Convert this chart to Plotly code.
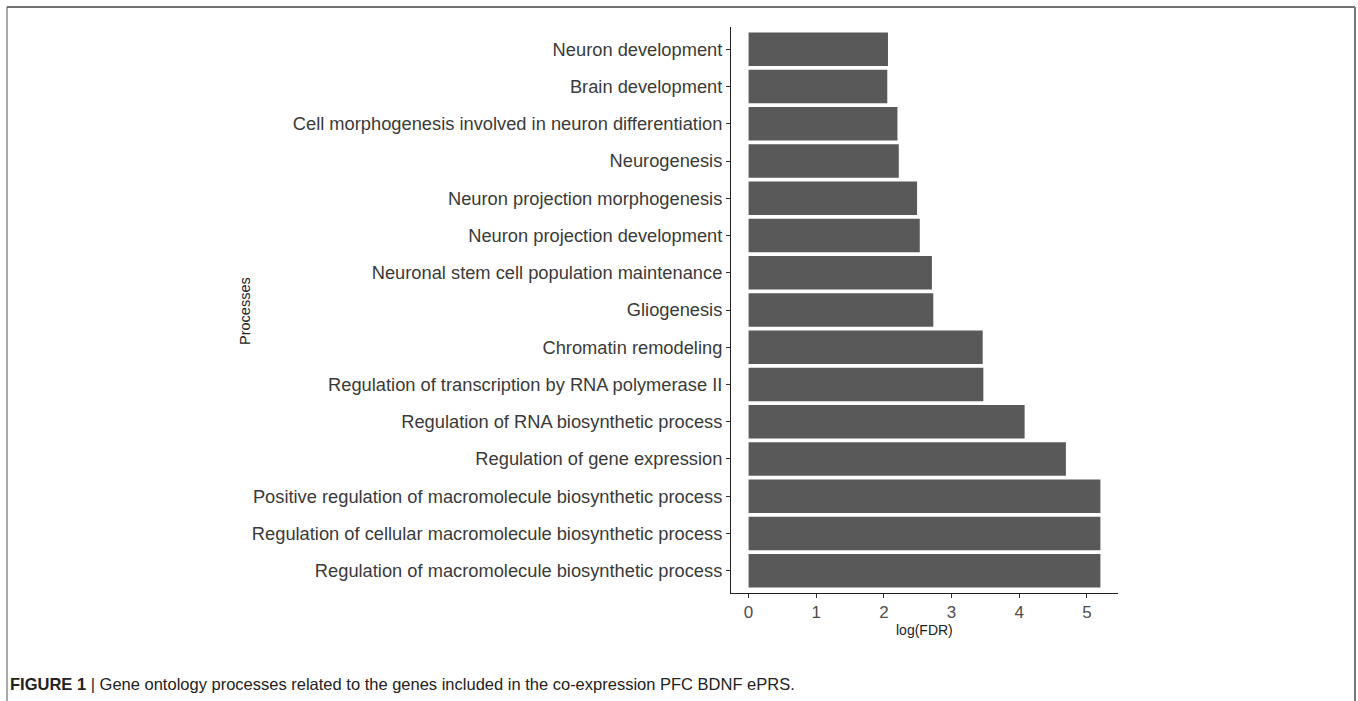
import plotly.graph_objects as go

# Data (top to bottom as shown)
processes = [
    "Neuron development",
    "Brain development",
    "Cell morphogenesis involved in neuron differentiation",
    "Neurogenesis",
    "Neuron projection morphogenesis",
    "Neuron projection development",
    "Neuronal stem cell population maintenance",
    "Gliogenesis",
    "Chromatin remodeling",
    "Regulation of transcription by RNA polymerase II",
    "Regulation of RNA biosynthetic process",
    "Regulation of gene expression",
    "Positive regulation of macromolecule biosynthetic process",
    "Regulation of cellular macromolecule biosynthetic process",
    "Regulation of macromolecule biosynthetic process",
]
log_fdr = [2.06, 2.05, 2.20, 2.22, 2.49, 2.53, 2.71, 2.73, 3.46, 3.47, 4.08, 4.69, 5.20, 5.20, 5.20]
x_ticks = [0, 1, 2, 3, 4, 5]

caption_bold = "FIGURE 1"
caption_text = " | Gene ontology processes related to the genes included in the co-expression PFC BDNF ePRS."

W, H = 1358, 701
L, R, T, B = 731, 1118, 27, 593
pw, ph = R - L, B - T

def px(x):
    return (x - L) / pw

def py(y):
    return (B - y) / ph

FONT = "Liberation Sans, Arial, sans-serif"

fig = go.Figure(go.Bar(
    x=log_fdr, y=processes, orientation="h",
    marker=dict(color="#595959", line=dict(width=0)),
    width=0.9,
))

fig.update_layout(
    width=W, height=H,
    margin=dict(l=L, r=W - R, t=T, b=H - B, pad=0),
    paper_bgcolor="white", plot_bgcolor="white",
    showlegend=False,
    font=dict(family=FONT, color="#333333"),
    xaxis=dict(
        range=[-0.26, 5.46], tickvals=x_ticks, ticktext=[str(t) for t in x_ticks],
        showgrid=False, zeroline=False,
        showline=True, linecolor="#222222", linewidth=1,
        ticks="outside", ticklen=4, tickcolor="#333333", tickwidth=1,
        tickfont=dict(size=17, color="#4d4d4d", family=FONT),
    ),
    yaxis=dict(
        type="category", categoryorder="array", categoryarray=processes,
        range=[14.6, -0.6],
        showgrid=False, zeroline=False,
        showline=True, linecolor="#222222", linewidth=1,
        ticks="outside", ticklen=4, tickcolor="#333333", tickwidth=1,
        tickfont=dict(size=18.3, color="#3a3a3a", family=FONT),
    ),
    annotations=[
        dict(text="log(FDR)", xref="paper", yref="paper", x=0.5, y=py(630),
             xanchor="center", yanchor="middle", showarrow=False,
             font=dict(size=14, color="#222222", family=FONT)),
        dict(text="Processes", xref="paper", yref="paper", x=px(245), y=py(311),
             xanchor="center", yanchor="middle", textangle=-90, showarrow=False,
             font=dict(size=14.5, color="#222222", family=FONT)),
        dict(text="<b>" + caption_bold + "</b>" + caption_text, xref="paper", yref="paper",
             x=px(8), y=py(684), xanchor="left", yanchor="middle", showarrow=False,
             font=dict(size=16.5, color="#222222", family=FONT)),
    ],
    shapes=[
        dict(type="line", xref="paper", yref="paper", x0=px(7), x1=px(1355), y0=py(7), y1=py(7),
             line=dict(color="#444444", width=1.5)),
        dict(type="line", xref="paper", yref="paper", x0=px(7), x1=px(7), y0=py(7), y1=py(710),
             line=dict(color="#555555", width=1)),
        dict(type="line", xref="paper", yref="paper", x0=px(1355), x1=px(1355), y0=py(7), y1=py(710),
             line=dict(color="#777777", width=2)),
    ],
)

fig.write_html("out.html", config={"displayModeBar": False},
               post_script="document.body.style.margin='0px';document.body.style.overflow='hidden';")
